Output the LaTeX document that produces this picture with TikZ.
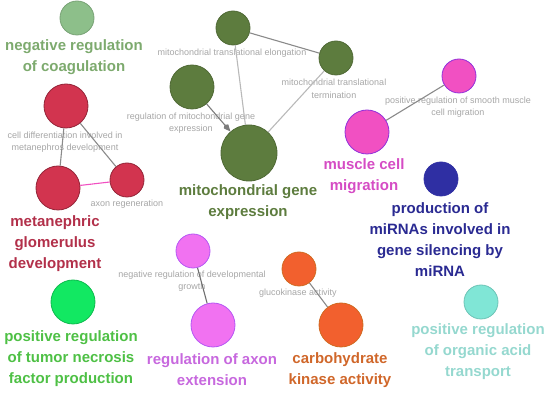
\documentclass[tikz,border=0pt]{standalone}
\usepackage{fontspec}
\setmainfont{Liberation Sans}
\usepackage{tikz}
\usetikzlibrary{arrows.meta}
\definecolor{acikYesil}{HTML}{8DBF8A}
\definecolor{acikYesilYazi}{HTML}{7DAA6E}
\definecolor{kiziRenk}{HTML}{D2344F}
\definecolor{kiziYazi}{HTML}{B2304A}
\definecolor{zeytin}{HTML}{5D7C3E}
\definecolor{pembe}{HTML}{F150C2}
\definecolor{pembeYazi}{HTML}{D54CC4}
\definecolor{lacivert}{HTML}{2F2FA3}
\definecolor{lacivertYazi}{HTML}{2A2A92}
\definecolor{parlakYesil}{HTML}{12E862}
\definecolor{parlakYesilYazi}{HTML}{4EC045}
\definecolor{mor}{HTML}{F172F1}
\definecolor{morYazi}{HTML}{C768DE}
\definecolor{turuncu}{HTML}{F2602E}
\definecolor{turuncuYazi}{HTML}{D0672A}
\definecolor{turkuaz}{HTML}{80E6D6}
\definecolor{turkuazYazi}{HTML}{95D8CF}
\definecolor{etiketGri}{HTML}{A6A6A6}
\definecolor{baglantiGri}{HTML}{8A8A8A}

\begin{document}
\begin{tikzpicture}[x=1pt,y=-1pt,
  bubble/.style={circle,inner sep=0pt,line width=0.8pt},
  bigname/.style={font=\fontsize{15}{21}\selectfont\bfseries,align=center},
  smallname/.style={font=\fontsize{9}{12.5}\selectfont,text=etiketGri,align=center},
  link/.style={draw=baglantiGri,line width=1.1pt}]
\useasboundingbox (0,0) rectangle (550,395);
\node[bubble,fill=acikYesil,draw=acikYesil!85!black,minimum size=34pt] (coag) at (77,18) {};
\node[bigname,text=acikYesilYazi] (coagText) at (74,57) {negative regulation\\of coagulation};
\node[bubble,fill=kiziRenk,draw=kiziRenk!70!black,minimum size=44pt] (cellDiff) at (66,106) {};
\node[smallname] (cellDiffText) at (65,142) {cell differentiation involved in\\metanephros development};
\node[bubble,fill=kiziRenk,draw=kiziRenk!70!black,minimum size=44pt] (metaGlom) at (58,188) {};
\node[bigname,text=kiziYazi] (metaGlomText) at (55,244) {metanephric\\glomerulus\\development};
\node[bubble,fill=kiziRenk,draw=kiziRenk!70!black,minimum size=34pt] (axonRegen) at (127,180) {};
\node[smallname] (axonRegenText) at (127,204) {axon regeneration};
\node[bubble,fill=zeytin,draw=zeytin!85!black,minimum size=34pt] (mitoElong) at (233,28) {};
\node[smallname] (mitoElongText) at (232,53) {mitochondrial translational elongation};
\node[bubble,fill=zeytin,draw=zeytin!85!black,minimum size=34pt] (mitoTerm) at (336,58) {};
\node[smallname] (mitoTermText) at (334,89) {mitochondrial translational\\termination};
\node[bubble,fill=zeytin,draw=zeytin!85!black,minimum size=44pt] (regMito) at (192,87) {};
\node[smallname] (regMitoText) at (191,123) {regulation of mitochondrial gene\\expression};
\node[bubble,fill=zeytin,draw=zeytin!85!black,minimum size=56pt] (mitoGene) at (249,153) {};
\node[bigname,text=zeytin] (mitoGeneText) at (248,202) {mitochondrial gene\\expression};
\node[bubble,fill=pembe,draw=pembe!60!blue,minimum size=34pt] (smoothMig) at (459,76) {};
\node[smallname] (smoothMigText) at (458,107) {positive regulation of smooth muscle\\cell migration};
\node[bubble,fill=pembe,draw=pembe!60!blue,minimum size=44pt] (muscleMig) at (367,132) {};
\node[bigname,text=pembeYazi] (muscleMigText) at (364,176) {muscle cell\\migration};
\node[bubble,fill=lacivert,draw=lacivert,minimum size=34pt] (mirna) at (441,179) {};
\node[bigname,text=lacivertYazi] (mirnaText) at (440,240) {production of\\miRNAs involved in\\gene silencing by\\miRNA};
\node[bubble,fill=parlakYesil,draw=parlakYesil!80!black,minimum size=44pt] (tnf) at (73,302) {};
\node[bigname,text=parlakYesilYazi] (tnfText) at (71,359) {positive regulation\\of tumor necrosis\\factor production};
\node[bubble,fill=mor,draw=mor!75!blue,minimum size=34pt] (devGrowth) at (193,251) {};
\node[smallname] (devGrowthText) at (192,281) {negative regulation of developmental\\growth};
\node[bubble,fill=mor,draw=mor!75!blue,minimum size=44pt] (axonExt) at (213,325) {};
\node[bigname,text=morYazi] (axonExtText) at (212,370) {regulation of axon\\extension};
\node[bubble,fill=turuncu,draw=turuncu!70!olive,minimum size=34pt] (glucoKin) at (299,269) {};
\node[smallname] (glucoKinText) at (298,293) {glucokinase activity};
\node[bubble,fill=turuncu,draw=turuncu!70!olive,minimum size=44pt] (carbKin) at (341,325) {};
\node[bigname,text=turuncuYazi] (carbKinText) at (340,370) {carbohydrate\\kinase activity};
\node[bubble,fill=turkuaz,draw=turkuaz!85!black,minimum size=34pt] (acidTrans) at (481,302) {};
\node[bigname,text=turkuazYazi] (acidTransText) at (478,352) {positive regulation\\of organic acid\\transport};
\draw[link] (cellDiff) -- (metaGlom);
\draw[link] (cellDiff) -- (axonRegen);
\draw[draw=pembe,line width=1.1pt] (metaGlom) -- (axonRegen);
\draw[link] (mitoElong) -- (mitoTerm);
\draw[link,draw=baglantiGri!60] (mitoElong) -- (mitoGene);
\draw[link,draw=baglantiGri!60] (mitoTerm) -- (mitoGene);
\draw[link,draw=baglantiGri!90!black,-{Kite[length=9pt,width=6pt]}] (regMito) -- (mitoGene);
\draw[link] (muscleMig) -- (smoothMig);
\draw[link,draw=baglantiGri!80!black] (devGrowth) -- (axonExt);
\draw[link] (glucoKin) -- (carbKin);
\end{tikzpicture}
\end{document}
